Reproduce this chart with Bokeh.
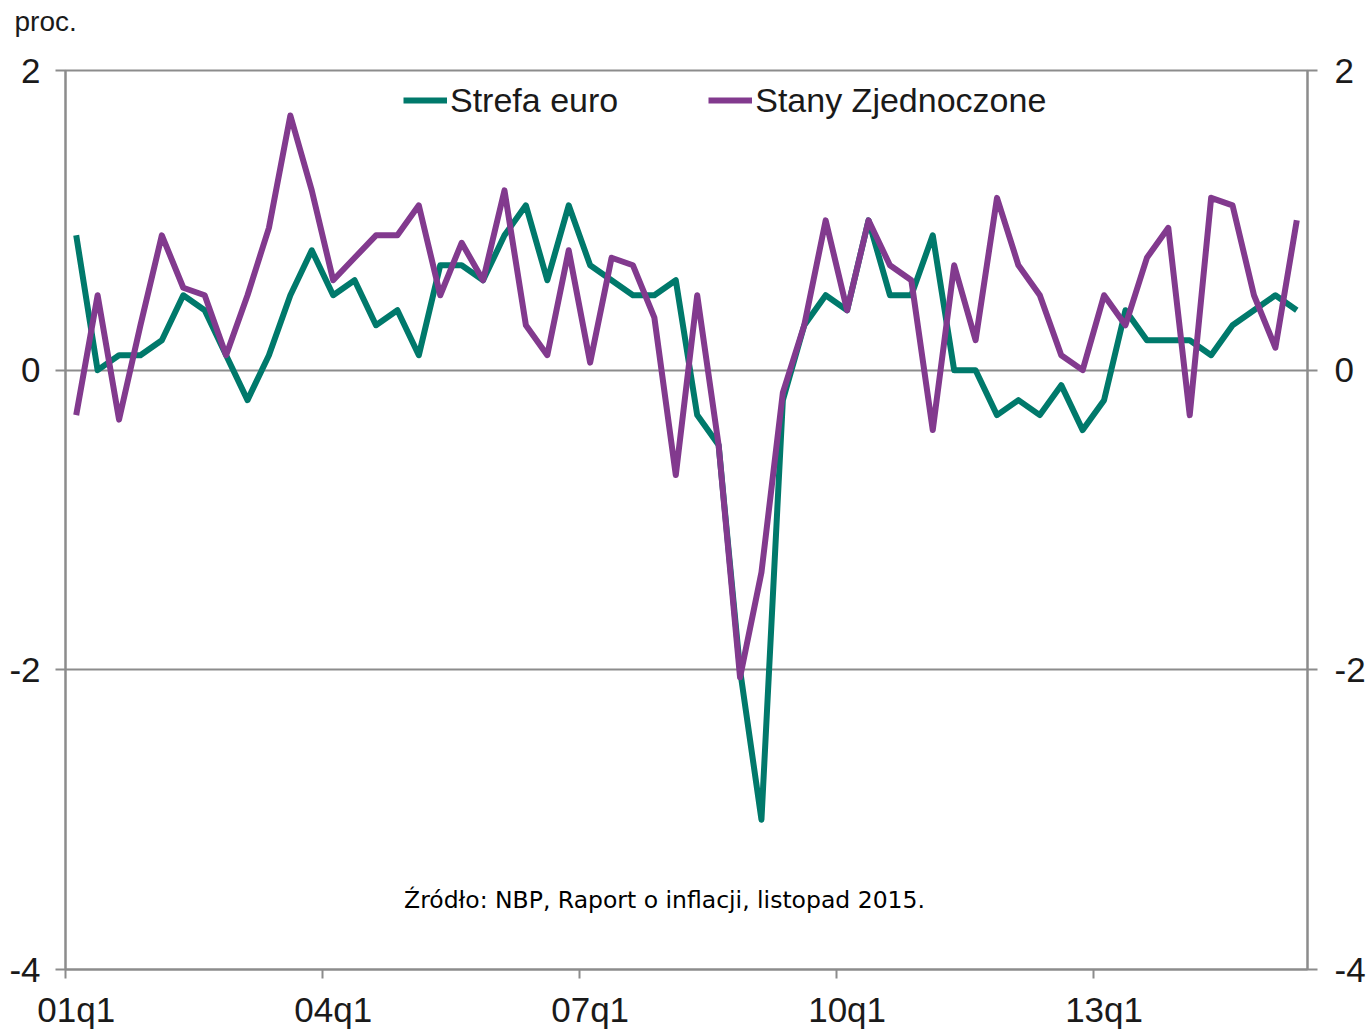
from bokeh.plotting import figure
from bokeh.models import Range1d, FixedTicker, LinearAxis, Label
from bokeh.embed import file_html
from bokeh.resources import INLINE

# ---- data ----
quarters = [f"{y:02d}q{q}" for y in range(1, 16) for q in range(1, 5)][:58]
tick_quarters = ["01q1", "04q1", "07q1", "10q1", "13q1"]

euro = [0.9, 0.0, 0.1, 0.1, 0.2, 0.5, 0.4, 0.1, -0.2, 0.1,
        0.5, 0.8, 0.5, 0.6, 0.3, 0.4, 0.1, 0.7, 0.7, 0.6,
        0.9, 1.1, 0.6, 1.1, 0.7, 0.6, 0.5, 0.5, 0.6, -0.3,
        -0.5, -2.0, -3.0, -0.2, 0.3, 0.5, 0.4, 1.0, 0.5, 0.5,
        0.9, 0.0, 0.0, -0.3, -0.2, -0.3, -0.1, -0.4, -0.2, 0.4,
        0.2, 0.2, 0.2, 0.1, 0.3, 0.4, 0.5, 0.4]

usa = [-0.3, 0.5, -0.33, 0.3, 0.9, 0.55, 0.5, 0.1, 0.5, 0.95,
       1.7, 1.2, 0.6, 0.75, 0.9, 0.9, 1.1, 0.5, 0.85, 0.6,
       1.2, 0.3, 0.1, 0.8, 0.05, 0.75, 0.7, 0.35, -0.7, 0.5,
       -0.5, -2.05, -1.35, -0.15, 0.3, 1.0, 0.4, 1.0, 0.7, 0.6,
       -0.4, 0.7, 0.2, 1.15, 0.7, 0.5, 0.1, 0.0, 0.5, 0.3,
       0.75, 0.95, -0.3, 1.15, 1.1, 0.5, 0.15, 1.0]

y_ticks = [-4, -2, 0, 2]
y_tick_labels = ["-4", "-2", "0", "2"]
series_names = ["Strefa euro", "Stany Zjednoczone"]
source_note = "Źródło: NBP, Raport o inflacji, listopad 2015."
unit_label = "proc."

TEAL = "#00796B"
PURPLE = "#823A8E"
GRAY = "#8C8C8C"
TXT = "#1a1a1a"
FONT = "Liberation Sans"

xs = list(range(len(quarters)))

p = figure(width=1369, height=1031, output_backend="svg", toolbar_location=None,
           x_range=Range1d(-0.5, len(quarters) - 0.5), y_range=Range1d(-4, 2),
           min_border_left=65, min_border_right=62, min_border_top=70, min_border_bottom=62,
           title=unit_label)
p.background_fill_color = "white"
p.border_fill_color = "white"
p.outline_line_color = GRAY
p.outline_line_width = 2

# unit label as title, top-left
p.title.align = "left"
p.title.vertical_align = "top"
p.title.offset = -51
p.title.standoff = 0
p.title.padding = dict(left=0, right=0, top=0, bottom=32)
p.title.text_font = FONT
p.title.text_font_size = "28px"
p.title.text_font_style = "normal"
p.title.text_color = TXT

# lines
p.line(xs, euro, line_color=TEAL, line_width=6, line_join="round", legend_label=series_names[0])
p.line(xs, usa, line_color=PURPLE, line_width=6, line_join="round", legend_label=series_names[1])

# grid
p.xgrid.visible = False
p.ygrid.ticker = FixedTicker(ticks=y_ticks)
p.ygrid.grid_line_color = GRAY
p.ygrid.grid_line_width = 2

# x axis
tick_idx = [quarters.index(q) for q in tick_quarters]
xa = p.xaxis[0]
xa.ticker = FixedTicker(ticks=tick_idx, minor_ticks=[i - 0.5 for i in tick_idx])
xa.major_label_overrides = {i: quarters[i] for i in tick_idx}
xa.major_tick_line_color = None
xa.minor_tick_line_color = GRAY
xa.minor_tick_line_width = 2
xa.minor_tick_out = 9
xa.minor_tick_in = 0
xa.axis_line_color = GRAY
xa.axis_line_width = 2
xa.major_label_text_font = FONT
xa.major_label_text_font_size = "35px"
xa.major_label_text_color = TXT
xa.major_label_standoff = 11

def style_y(ax):
    ax.ticker = FixedTicker(ticks=y_ticks)
    ax.major_label_overrides = dict(zip(y_ticks, y_tick_labels))
    ax.axis_line_color = GRAY
    ax.axis_line_width = 2
    ax.major_tick_line_color = GRAY
    ax.major_tick_line_width = 2
    ax.major_tick_out = 10
    ax.major_tick_in = 0
    ax.minor_tick_line_color = None
    ax.major_label_text_font = FONT
    ax.major_label_text_font_size = "35px"
    ax.major_label_text_color = TXT

style_y(p.yaxis[0])
p.yaxis[0].major_label_standoff = 15
ry = LinearAxis()
style_y(ry)
ry.major_label_standoff = 17
p.add_layout(ry, "right")

# legend
lg = p.legend[0]
lg.orientation = "horizontal"
lg.location = (338, 849)
lg.padding = 0
lg.margin = 0
lg.border_line_color = None
lg.background_fill_alpha = 0
lg.glyph_width = 44
lg.glyph_height = 40
lg.label_height = 40
lg.label_standoff = 3
lg.spacing = 90
lg.label_text_font = FONT
lg.label_text_font_size = "34px"
lg.label_text_color = TXT

# source note inside plot
p.add_layout(Label(x=599, y=70, x_units="screen", y_units="screen", text=source_note,
                   text_font="DejaVu Sans", text_font_size="23.5px", text_color="#000000",
                   text_align="center", text_baseline="alphabetic"))

open("out.html", "w").write(file_html(p, INLINE))
